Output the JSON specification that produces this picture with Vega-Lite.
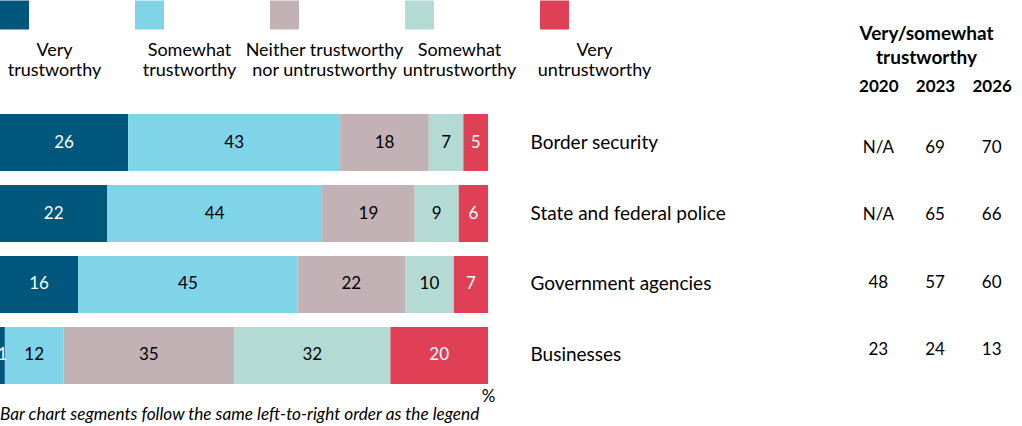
{
  "$schema": "https://vega.github.io/schema/vega-lite/v6.json",
  "padding": 0,
  "background": "white",
  "bounds": "flush",
  "spacing": 85,
  "title": {
    "text": "Bar chart segments follow the same left-to-right order as the legend",
    "orient": "bottom",
    "anchor": "start",
    "font": "Lato",
    "fontSize": 17.2,
    "fontStyle": "italic",
    "fontWeight": "normal",
    "color": "black",
    "offset": 2
  },
  "config": {
    "view": {"stroke": null},
    "font": "Lato",
    "text": {"font": "Lato", "color": "black"},
    "axis": {"labelFont": "Lato", "titleFont": "Lato", "labelColor": "black", "titleColor": "black"}
  },
  "datasets": {
    "shares": [
      {"group": "Border security", "response": "Very trustworthy", "rank": 1, "pct": 26},
      {"group": "Border security", "response": "Somewhat trustworthy", "rank": 2, "pct": 43},
      {"group": "Border security", "response": "Neither trustworthy nor untrustworthy", "rank": 3, "pct": 18},
      {"group": "Border security", "response": "Somewhat untrustworthy", "rank": 4, "pct": 7},
      {"group": "Border security", "response": "Very untrustworthy", "rank": 5, "pct": 5},
      {"group": "State and federal police", "response": "Very trustworthy", "rank": 1, "pct": 22},
      {"group": "State and federal police", "response": "Somewhat trustworthy", "rank": 2, "pct": 44},
      {"group": "State and federal police", "response": "Neither trustworthy nor untrustworthy", "rank": 3, "pct": 19},
      {"group": "State and federal police", "response": "Somewhat untrustworthy", "rank": 4, "pct": 9},
      {"group": "State and federal police", "response": "Very untrustworthy", "rank": 5, "pct": 6},
      {"group": "Government agencies", "response": "Very trustworthy", "rank": 1, "pct": 16},
      {"group": "Government agencies", "response": "Somewhat trustworthy", "rank": 2, "pct": 45},
      {"group": "Government agencies", "response": "Neither trustworthy nor untrustworthy", "rank": 3, "pct": 22},
      {"group": "Government agencies", "response": "Somewhat untrustworthy", "rank": 4, "pct": 10},
      {"group": "Government agencies", "response": "Very untrustworthy", "rank": 5, "pct": 7},
      {"group": "Businesses", "response": "Very trustworthy", "rank": 1, "pct": 1},
      {"group": "Businesses", "response": "Somewhat trustworthy", "rank": 2, "pct": 12},
      {"group": "Businesses", "response": "Neither trustworthy nor untrustworthy", "rank": 3, "pct": 35},
      {"group": "Businesses", "response": "Somewhat untrustworthy", "rank": 4, "pct": 32},
      {"group": "Businesses", "response": "Very untrustworthy", "rank": 5, "pct": 20}
    ],
    "legend": [
      {"response": "Very trustworthy", "label": "Very\ntrustworthy"},
      {"response": "Somewhat trustworthy", "label": "Somewhat\ntrustworthy"},
      {"response": "Neither trustworthy nor untrustworthy", "label": "Neither trustworthy\nnor untrustworthy"},
      {"response": "Somewhat untrustworthy", "label": "Somewhat\nuntrustworthy"},
      {"response": "Very untrustworthy", "label": "Very\nuntrustworthy"}
    ],
    "table": [
      {"group": "Border security", "year": "2020", "value": "N/A"},
      {"group": "Border security", "year": "2023", "value": "69"},
      {"group": "Border security", "year": "2026", "value": "70"},
      {"group": "State and federal police", "year": "2020", "value": "N/A"},
      {"group": "State and federal police", "year": "2023", "value": "65"},
      {"group": "State and federal police", "year": "2026", "value": "66"},
      {"group": "Government agencies", "year": "2020", "value": "48"},
      {"group": "Government agencies", "year": "2023", "value": "57"},
      {"group": "Government agencies", "year": "2026", "value": "60"},
      {"group": "Businesses", "year": "2020", "value": "23"},
      {"group": "Businesses", "year": "2023", "value": "24"},
      {"group": "Businesses", "year": "2026", "value": "13"}
    ]
  },
  "vconcat": [
    {
      "width": 675,
      "height": 28,
      "data": {"name": "legend"},
      "encoding": {
        "x": {
          "field": "response",
          "type": "nominal",
          "sort": null,
          "scale": {"paddingInner": 0, "paddingOuter": 0},
          "axis": null
        }
      },
      "layer": [
        {
          "mark": {"type": "square", "size": 841, "filled": true, "opacity": 1, "xOffset": -53},
          "encoding": {
            "color": {
              "field": "response",
              "type": "nominal",
              "scale": {
                "domain": ["Very trustworthy", "Somewhat trustworthy", "Neither trustworthy nor untrustworthy", "Somewhat untrustworthy", "Very untrustworthy"],
                "range": ["#00577C", "#80D4E8", "#C2B2B5", "#B4DBD3", "#E04056"]
              },
              "legend": null
            }
          }
        },
        {
          "mark": {"type": "text", "align": "center", "baseline": "top", "dx": -13, "dy": 27, "lineBreak": "\n", "fontSize": 18, "lineHeight": 20},
          "encoding": {"text": {"field": "label", "type": "nominal"}}
        }
      ]
    },
    {
      "bounds": "flush",
      "spacing": 362,
      "hconcat": [
        {
          "width": 488,
          "height": 270,
          "data": {"name": "shares"},
          "encoding": {
            "y": {
              "field": "group",
              "type": "nominal",
              "sort": null,
              "scale": {"paddingInner": 0.197, "paddingOuter": 0},
              "axis": {
                "orient": "right",
                "title": null,
                "ticks": false,
                "domain": false,
                "labelAlign": "left",
                "labelPadding": 42,
                "labelLimit": 0,
                "labelFontSize": 19
              }
            }
          },
          "layer": [
            {
              "mark": {"type": "bar"},
              "encoding": {
                "x": {
                  "field": "pct",
                  "type": "quantitative",
                  "stack": "normalize",
                  "axis": {
                    "title": "%",
                    "labels": false,
                    "ticks": false,
                    "domain": false,
                    "grid": false,
                    "titleAnchor": "end",
                    "titleAlign": "center",
                    "titleFontSize": 17,
                    "titleFontWeight": "normal",
                    "titlePadding": 4
                  }
                },
                "color": {
                  "field": "response",
                  "type": "nominal",
                  "scale": {
                    "domain": ["Very trustworthy", "Somewhat trustworthy", "Neither trustworthy nor untrustworthy", "Somewhat untrustworthy", "Very untrustworthy"],
                    "range": ["#00577C", "#80D4E8", "#C2B2B5", "#B4DBD3", "#E04056"]
                  },
                  "legend": null
                },
                "order": {"field": "rank", "type": "quantitative"}
              }
            },
            {
              "mark": {"type": "text", "fontSize": 17, "clip": true},
              "encoding": {
                "x": {"field": "pct", "type": "quantitative", "stack": "normalize", "bandPosition": 0.5},
                "detail": {"field": "response", "type": "nominal"},
                "order": {"field": "rank", "type": "quantitative"},
                "text": {"field": "pct", "type": "quantitative"},
                "color": {
                  "condition": {"test": "datum.response === 'Very trustworthy' || datum.response === 'Very untrustworthy'", "value": "white"},
                  "value": "black"
                }
              }
            }
          ]
        },
        {
          "width": 170,
          "height": 270,
          "data": {"name": "table"},
          "mark": {"type": "text", "fontSize": 17},
          "encoding": {
            "x": {
              "field": "year",
              "type": "ordinal",
              "scale": {"paddingInner": 0, "paddingOuter": 0},
              "axis": {
                "orient": "top",
                "title": ["Very/somewhat", "trustworthy"],
                "titleFontSize": 19,
                "titleFontWeight": "bold",
                "titleLineHeight": 24,
                "titleX": 76,
                "titlePadding": 10,
                "labelFontSize": 17,
                "labelFontWeight": "bold",
                "labelAngle": 0,
                "labelPadding": 19,
                "ticks": false,
                "domain": false
              }
            },
            "y": {
              "field": "group",
              "type": "nominal",
              "sort": null,
              "scale": {"paddingInner": 0.197, "paddingOuter": 0},
              "axis": null
            },
            "text": {"field": "value", "type": "nominal"}
          }
        }
      ]
    }
  ]
}
